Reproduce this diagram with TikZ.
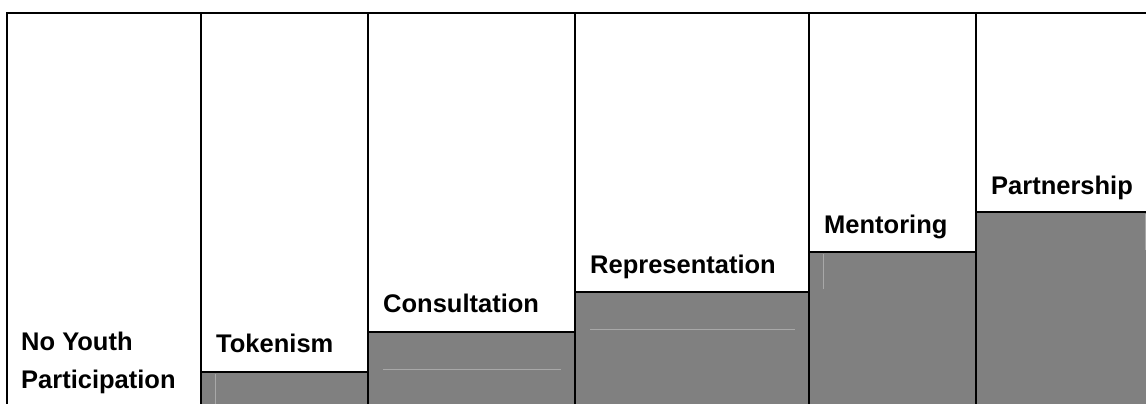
\documentclass[tikz,border=0pt]{standalone}
\usepackage{fontspec}
\setmainfont{Liberation Sans}
\definecolor{stepgray}{HTML}{808080}
\definecolor{faint}{HTML}{A8A8A8}
\begin{document}
\begin{tikzpicture}[x=1pt,y=-1pt,
  edge/.style={draw=black,line width=2pt},
  faintline/.style={draw=faint,line width=0.8pt},
  label/.style={font=\fontsize{25.5}{38}\selectfont\bfseries,anchor=base west,inner sep=0pt,align=left}]
\useasboundingbox (0,0) rectangle (1146,404);
% gray step fills
\fill[stepgray] (201,372) rectangle (368,404);
\fill[stepgray] (368,332) rectangle (575,404);
\fill[stepgray] (575,292) rectangle (809,404);
\fill[stepgray] (809,252) rectangle (976,404);
\fill[stepgray] (976,212) rectangle (1146,404);
% faint artefact lines
\draw[faintline] (215,374) -- (215,404);
\draw[faintline] (383,369) -- (561,369);
\draw[faintline] (590,329) -- (795,329);
\draw[faintline] (823,254) -- (823,289);
\draw[faintline] (1145,214) -- (1145,250);
% coordinates of frame
\coordinate (tl) at (7,13);
\coordinate (tr) at (1146,13);
\coordinate (bl) at (7,404);
\foreach \x/\n in {201/a,368/b,575/c,809/d,976/e}{
  \coordinate (top\n) at (\x,13);
  \coordinate (bot\n) at (\x,404);
}
\coordinate (s1l) at (201,372); \coordinate (s1r) at (368,372);
\coordinate (s2l) at (368,332); \coordinate (s2r) at (575,332);
\coordinate (s3l) at (575,292); \coordinate (s3r) at (809,292);
\coordinate (s4l) at (809,252); \coordinate (s4r) at (976,252);
\coordinate (s5l) at (976,212); \coordinate (s5r) at (1146,212);
\draw[edge,line cap=rect] (bl) -- (tl) -- (tr);
\foreach \n in {a,b,c,d,e}{\draw[edge] (top\n) -- (bot\n);}
\draw[edge] (s1l) -- (s1r);
\draw[edge] (s2l) -- (s2r);
\draw[edge] (s3l) -- (s3r);
\draw[edge] (s4l) -- (s4r);
\draw[edge] (s5l) -- (s5r);
% labels
\node[label] (noyouth) at (21,388) {No Youth\\Participation};
\node[label] (tokenism) at (216,352) {Tokenism};
\node[label] (consultation) at (383,312) {Consultation};
\node[label] (representation) at (590,273) {Representation};
\node[label] (mentoring) at (824,233) {Mentoring};
\node[label] (partnership) at (991,194) {Partnership};
\end{tikzpicture}
\end{document}
